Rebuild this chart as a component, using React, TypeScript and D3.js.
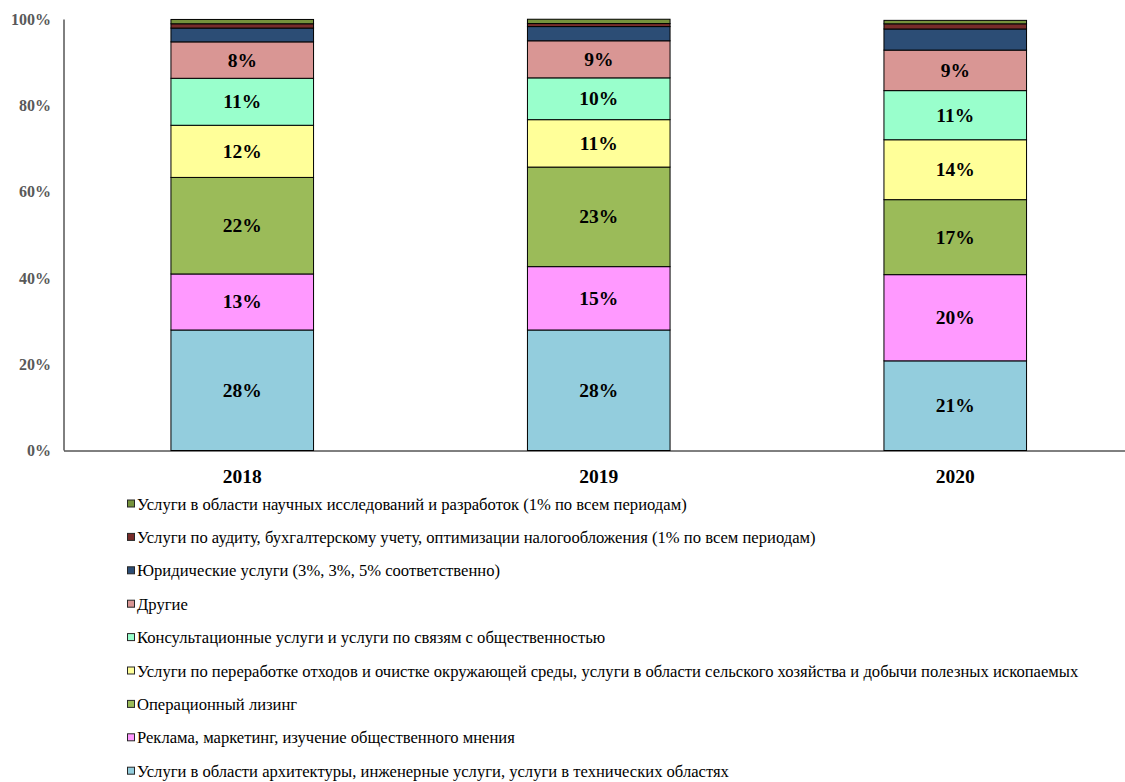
import React from "react";
import * as d3 from "d3";

const years = ["2018", "2019", "2020"];

const seriesNames = [
  "Услуги в области архитектуры, инженерные услуги, услуги в технических областях",
  "Реклама, маркетинг, изучение общественного мнения",
  "Операционный лизинг",
  "Услуги по переработке отходов и очистке окружающей среды, услуги в области сельского хозяйства и добычи полезных ископаемых",
  "Консультационные услуги и услуги по связям с общественностью",
  "Другие",
  "Юридические услуги (3%, 3%, 5% соответственно)",
  "Услуги по аудиту, бухгалтерскому учету, оптимизации налогообложения (1% по всем периодам)",
  "Услуги в области научных исследований и разработок (1% по всем периодам)",
];

const architecture = [27.96, 27.96, 20.8];
const advertising = [13.0, 14.7, 20.0];
const leasing = [22.4, 23.1, 17.4];
const waste = [12.1, 11.0, 13.9];
const consulting = [10.9, 9.7, 11.4];
const others = [8.45, 8.6, 9.4];
const legal = [3.2, 3.3, 4.9];
const audit = [1.0, 0.7, 1.2];
const research = [1.0, 1.0, 0.8];

const seriesValues = [architecture, advertising, leasing, waste, consulting, others, legal, audit, research];
const showLabel = [true, true, true, true, true, true, false, false, false];

const colors = ["#93CDDD", "#FF99FF", "#9BBB59", "#FFFF99", "#99FFCC", "#D99694", "#2C4D75", "#772C2A", "#76923C"];

const yTicks = [0, 20, 40, 60, 80, 100];

const W = 1125;
const H = 782;
const FONT = '"Liberation Serif", "Times New Roman", Times, "DejaVu Serif", serif';

export default function App() {
  const x = d3.scaleBand<string>().domain(years).range([64, 64 + 3 * 356.5]).paddingInner(0.6).paddingOuter(0.3);
  const y = d3.scaleLinear().domain([0, 100]).range([450.5, 19.5]);

  const rows = years.map((yr, i) => {
    const r: any = { year: yr };
    seriesNames.forEach((n, k) => (r[n] = seriesValues[k][i]));
    return r;
  });
  const stacked = d3.stack<any>().keys(seriesNames)(rows);

  const legendOrder = seriesNames.map((_, k) => k).reverse();
  const legendY0 = 504;
  const legendStep = 33.4;
  const tf = { fontFamily: FONT };

  return (
    <svg width={W} height={H} style={{ position: "fixed", left: 0, top: 0, background: "#fff", fontFamily: FONT }}>
      <rect x={0} y={0} width={W} height={H} fill="#fff" />
      {stacked.map((layer, k) => (
        <g key={k}>
          {layer.map((d, i) => (
            <rect
              key={i}
              x={x(years[i])!}
              y={y(d[1])}
              width={x.bandwidth()}
              height={y(d[0]) - y(d[1])}
              fill={colors[k]}
              stroke="#000"
              strokeWidth={1}
            />
          ))}
        </g>
      ))}
      {stacked.map((layer, k) =>
        showLabel[k]
          ? layer.map((d, i) => (
              <text
                key={`l${k}-${i}`}
                x={x(years[i])! + x.bandwidth() / 2}
                y={(y(d[0]) + y(d[1])) / 2}
                textAnchor="middle"
                dominantBaseline="central"
                fontWeight="bold"
                fontSize={19.5}
                fill="#000"
                style={tf}
              >
                {Math.round(seriesValues[k][i])}%
              </text>
            ))
          : null
      )}
      <line x1={64} x2={64} y1={y(100)} y2={y(0)} stroke="#000" strokeWidth={1} />
      <line x1={64} x2={W} y1={y(0) + 0.5} y2={y(0) + 0.5} stroke="#000" strokeWidth={1} />
      {yTicks.map((t) => (
        <text key={t} x={51} y={y(t)} textAnchor="end" dominantBaseline="central" fontWeight="bold" fontSize={16} fill="#595959" style={tf}>
          {t}%
        </text>
      ))}
      {years.map((yr) => (
        <text key={yr} x={x(yr)! + x.bandwidth() / 2} y={476} textAnchor="middle" dominantBaseline="central" fontWeight="bold" fontSize={19.5} fill="#000" style={tf}>
          {yr}
        </text>
      ))}
      {legendOrder.map((k, j) => {
        const cy = legendY0 + j * legendStep;
        return (
          <g key={`leg${k}`}>
            <rect x={127.5} y={cy - 4} width={7} height={7} fill={colors[k]} stroke="#262626" strokeWidth={1} />
            <text x={137} y={cy} dominantBaseline="central" fontSize={16.6} fill="#000" style={tf}>
              {seriesNames[k]}
            </text>
          </g>
        );
      })}
    </svg>
  );
}
